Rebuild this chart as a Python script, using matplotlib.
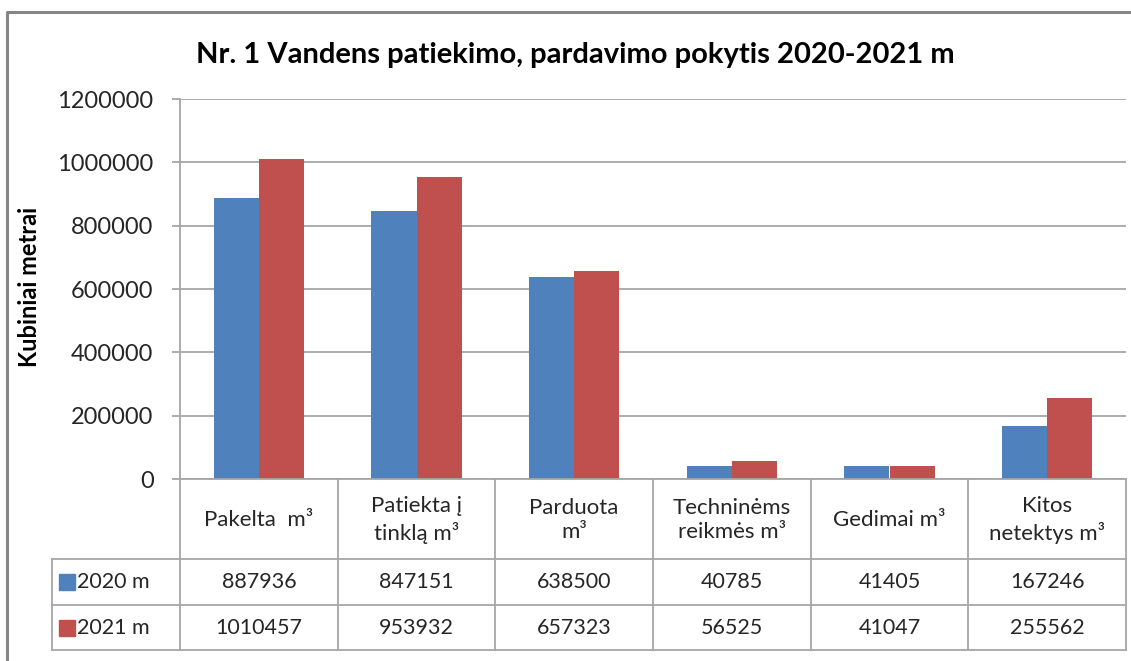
import numpy as np
import matplotlib.pyplot as plt
from matplotlib.lines import Line2D

plt.rcParams['font.family'] = ['Lato', 'DejaVu Sans']

categories = ["Pakelta  m³", "Patiekta į\ntinklą m³", "Parduota\nm³",
              "Techninėms\nreikmės m³", "Gedimai m³", "Kitos\nnetektys m³"]
values_2020 = [887936, 847151, 638500, 40785, 41405, 167246]
values_2021 = [1010457, 953932, 657323, 56525, 41047, 255562]
series_labels = ["2020 m", "2021 m"]
colors = ["#4F81BD", "#C0504D"]

W, H = 1131, 661
grey = "#A6A6A6"
txt = "#262626"

fig = plt.figure(figsize=(W / 100, H / 100), dpi=100)


def box(l, t, r, b):
    return [l / W, 1 - b / H, (r - l) / W, (b - t) / H]


# outer chart frame (only top and left visible)
fig.add_artist(Line2D([7 / W, 7 / W, 1], [0, 1 - 12 / H, 1 - 12 / H],
                      color="#868686", lw=2.2, transform=fig.transFigure))

fig.text(575 / W, 1 - 55 / H, "Nr. 1 Vandens patiekimo, pardavimo pokytis 2020-2021 m",
         ha="center", va="center", fontsize=21, fontweight="bold", color="black")

# bar chart
ax = fig.add_axes(box(180, 99, 1126, 479))
x = np.arange(len(categories))
w = 0.286
ax.bar(x - w / 2, values_2020, w, color=colors[0], zorder=2)
ax.bar(x + w / 2, values_2021, w, color=colors[1], zorder=2)
ax.set_xlim(-0.5, len(categories) - 0.5)
ax.set_ylim(0, 1200000)
ax.set_yticks(np.arange(0, 1200001, 200000))
ax.set_yticklabels([str(v) for v in np.arange(0, 1200001, 200000)])
ax.set_xticks([])
ax.yaxis.grid(True, color=grey, lw=1.3)
ax.set_axisbelow(True)
for s in ["top", "right", "bottom"]:
    ax.spines[s].set_visible(False)
ax.spines["left"].set_color(grey)
ax.spines["left"].set_linewidth(1.3)
ax.tick_params(axis="y", length=6, width=1.3, color=grey, labelsize=17,
               labelcolor=txt, pad=13)

fig.text(30 / W, 1 - 287 / H, "Kubiniai metrai", rotation=90, ha="center",
         va="center", fontsize=17, fontweight="bold", color="black")

# data table under the chart
tax = fig.add_axes(box(52, 479, 1126, 650))
unit = (1126 - 180) / len(categories)
xl = -0.5 - (180 - 52) / unit
xr = len(categories) - 0.5
tax.set_xlim(xl, xr)
rows = [0, 80, 126, 171]
tax.set_ylim(rows[-1], 0)
tax.axis("off")

lk = dict(color=grey, lw=1.3, clip_on=False)
tax.plot([-0.5, xr], [rows[0], rows[0]], **lk)
for r in rows[1:]:
    tax.plot([xl, xr], [r, r], **lk)
for k in range(len(categories) + 1):
    tax.plot([-0.5 + k, -0.5 + k], [rows[0], rows[-1]], **lk)
tax.plot([xl, xl], [rows[1], rows[-1]], **lk)

for i, c in enumerate(categories):
    tax.text(i, (rows[0] + rows[1]) / 2 + 1, c, ha="center", va="center",
             fontsize=16, color=txt, linespacing=1.3)

for j, vals in enumerate([values_2020, values_2021]):
    yc = (rows[j + 1] + rows[j + 2]) / 2
    for i, v in enumerate(vals):
        tax.text(i, yc, str(v), ha="center", va="center", fontsize=15.5, color=txt)
    tax.plot(xl + 15 / unit, yc, marker="s", ms=11, color=colors[j], clip_on=False)
    tax.text(xl + 25 / unit, yc, series_labels[j], ha="left", va="center",
             fontsize=15.5, color=txt)

fig.savefig("out.png", dpi=100)
